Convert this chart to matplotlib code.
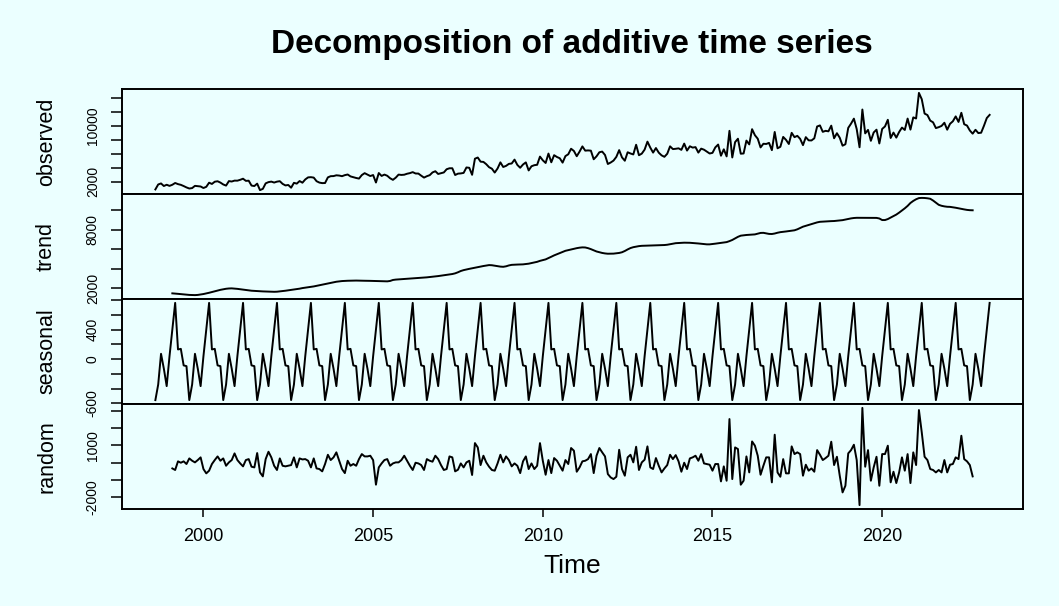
import numpy as np
import matplotlib
matplotlib.use('Agg')
import matplotlib.pyplot as plt

plt.rcParams['font.family'] = ['Liberation Sans', 'DejaVu Sans']

# monthly series, Aug 1998 .. Mar 2023
start = 1998 + 7/12
n_obs = 296

# seasonal figure, Aug .. Jul
seasonal_fig = [-557, -345, 73, -130, -367, 40, 400, 765, 132, 140, -85, -95]

# trend, Feb 1999 .. Sep 2022 (one row per calendar year)
trend = [
    1490, 1470, 1440, 1410, 1380, 1350, 1330, 1315, 1310, 1330, 1370,
    1420, 1480, 1550, 1620, 1700, 1780, 1850, 1910, 1960, 1990, 2000, 1980,
    1950, 1910, 1870, 1830, 1790, 1760, 1740, 1720, 1700, 1690, 1680, 1670,
    1660, 1650, 1660, 1690, 1720, 1760, 1800, 1830, 1870, 1920, 1970, 2030,
    2070, 2100, 2150, 2200, 2260, 2320, 2390, 2440, 2500, 2560, 2620, 2680,
    2720, 2750, 2770, 2780, 2790, 2800, 2800, 2790, 2790, 2780, 2780, 2770,
    2760, 2750, 2740, 2730, 2720, 2720, 2760, 2860, 2900, 2920, 2940, 2960,
    2980, 3000, 3020, 3040, 3060, 3080, 3100, 3130, 3160, 3190, 3220, 3260,
    3300, 3340, 3380, 3420, 3470, 3540, 3650, 3780, 3870, 3940, 4000, 4060,
    4110, 4170, 4230, 4290, 4340, 4385, 4370, 4320, 4270, 4230, 4210, 4260,
    4350, 4410, 4430, 4440, 4450, 4460, 4490, 4530, 4590, 4650, 4720, 4820,
    4900, 4970, 5100, 5240, 5380, 5500, 5620, 5740, 5850, 5920, 5990, 6060,
    6120, 6170, 6200, 6190, 6120, 6020, 5900, 5780, 5700, 5630, 5580, 5550,
    5550, 5560, 5590, 5630, 5700, 5830, 5990, 6130, 6220, 6280, 6330, 6360,
    6370, 6380, 6380, 6390, 6400, 6410, 6420, 6440, 6470, 6520, 6580, 6630,
    6650, 6670, 6680, 6680, 6670, 6650, 6630, 6600, 6570, 6540, 6510, 6510,
    6540, 6580, 6620, 6660, 6700, 6740, 6840, 6960, 7120, 7280, 7400, 7440,
    7470, 7490, 7510, 7530, 7600, 7680, 7690, 7640, 7580, 7570, 7620, 7700,
    7760, 7790, 7830, 7870, 7900, 7950, 8050, 8180, 8320, 8410, 8500, 8590,
    8680, 8760, 8820, 8840, 8860, 8880, 8890, 8900, 8930, 8960, 8990, 9050,
    9110, 9170, 9210, 9230, 9230, 9230, 9230, 9230, 9230, 9230, 9220, 9160,
    9000, 9000, 9100, 9250, 9400, 9560, 9760, 9980, 10200, 10450, 10750, 10960,
    11130, 11250, 11270, 11260, 11230, 11180, 11000, 10780, 10560, 10460, 10400, 10360,
    10350, 10310, 10260, 10200, 10150, 10090, 10040, 10010, 10000,
]

# remainder, Feb 1999 .. Sep 2022
random_part = [
    -330, -420, 80, 0, 80, -75, 250, 115, 20, 155, 310, -365,
    -615, -460, -75, 155, 365, 115, 250, -175, 20, 155, 540, 155,
    -40, -210, 155, 210, -230, -270, 560, -560, -790, 210, 635, 310,
    -175, -420, 250, -175, -210, -175, -135, 310, -270, 250, 190, 210,
    115, -270, 250, -330, -365, -500, -75, 460, 155, 310, 600, 115,
    -365, -600, 115, -175, -75, -175, 210, 500, 365, 365, 405, 150,
    -1270, -270, -40, 155, 210, -175, -40, 20, 20, 155, 405, 115,
    -175, -420, 0, -40, -135, -420, 210, 115, 60, 405, 210, -135,
    -420, -365, 365, 310, -500, -405, -40, -270, 20, 115, -710, 1135,
    885, -135, 405, 20, -230, -420, -460, -40, 460, 20, 365, 155,
    -210, -40, -175, -600, 80, 365, -365, -40, -365, -175, 1135, 115,
    -695, 155, -600, 270, 115, -175, -460, 155, -75, 850, 695, -520,
    -270, 80, 115, 210, 500, -600, 405, 850, 600, 365, -655, -850,
    -945, -810, 750, -365, -750, 310, 460, 20, 925, -420, 20, 175,
    945, -270, -365, 270, -175, -560, -330, -135, 460, 210, 440, 80,
    -520, 0, -365, 250, 310, 405, 115, 500, -40, -75, -115, -460,
    -75, -75, -1080, -210, -1040, 2525, -945, 885, 790, -1270, -1040, 365,
    -560, 1230, 985, 405, -695, -175, 310, 310, -1135, 1620, -560, -810,
    210, -615, -615, 945, 500, 600, 500, -750, -115, -460, -330, -520,
    730, 460, 155, 270, 405, 1215, -135, 345, -750, -1715, -1330, 540,
    730, 1040, 155, -2450, 3170, -230, 730, -1040, -270, 345, -1330, 500,
    500, 985, -1135, -520, -1175, -560, 310, -460, 500, -1175, 600, -135,
    3045, 1755, 345, 155, -365, -420, -560, -420, -560, 155, -560, -115,
    -75, 310, 210, 1560, 210, 80, -135, -790,
]

# observed values where the moving average is undefined
obs_head = [892, 1600, 1750, 1380, 1560, 1400]
obs_tail = [9420, 8950, 9000, 10000, 11100, 11550]

t = start + np.arange(n_obs) / 12
seasonal = np.array([seasonal_fig[i % 12] for i in range(n_obs)], dtype=float)
t_mid = t[6:6 + len(trend)]
observed = np.concatenate([obs_head,
                           np.array(trend) + seasonal[6:6 + len(trend)] + np.array(random_part),
                           obs_tail])

bg = '#ebffff'
fig = plt.figure(figsize=(10.59, 6.06), dpi=100, facecolor=bg)

left, width = 122 / 1059, 901 / 1059
ph = 105 / 606
tops = [89, 194, 299, 404]

panels = [
    ('observed', t, observed, [2000, 4000, 6000, 8000, 10000, 12000, 14000], ['2000', '', '', '', '10000', '', '']),
    ('trend', t_mid, trend, [2000, 4000, 6000, 8000, 10000], ['2000', '', '', '8000', '']),
    ('seasonal', t, seasonal, [-600, -400, -200, 0, 200, 400, 600, 800], ['-600', '', '', '0', '', '400', '', '']),
    ('random', t_mid, random_part, [-2000, -1000, 0, 1000, 2000, 3000], ['-2000', '', '', '1000', '', '']),
]

span = t[-1] - t[0]
xlim = (t[0] - 0.04 * span, t[-1] + 0.04 * span)

axes = []
for (name, x, y, ticks, labels), top in zip(panels, tops):
    ax = fig.add_axes([left, 1 - (top + 105) / 606, width, ph], facecolor=bg)
    ax.plot(x, y, color='black', lw=1.4)
    ax.set_xlim(xlim)
    ax.margins(y=0.04)
    ax.set_yticks(ticks)
    ax.set_yticklabels(labels, rotation=90, va='center', fontsize=10)
    ax.tick_params(axis='y', length=8, width=1.1, pad=8)
    ax.tick_params(axis='x', bottom=False, labelbottom=False)
    ax.set_ylabel(name, fontsize=15.5)
    ax.yaxis.set_label_coords(-65 / 901, 0.5)
    for s in ax.spines.values():
        s.set_linewidth(1.4)
    axes.append(ax)

ax = axes[-1]
ax.set_xticks([2000, 2005, 2010, 2015, 2020])
ax.tick_params(axis='x', bottom=True, labelbottom=True, length=6, width=1.1, pad=8, labelsize=13)
ax.set_xlabel('Time', fontsize=19, labelpad=6)

fig.text(572 / 1059, 1 - 44 / 606, 'Decomposition of additive time series',
         ha='center', va='center', fontsize=24, fontweight='bold')

fig.savefig('out.png', dpi=100, facecolor=bg)
